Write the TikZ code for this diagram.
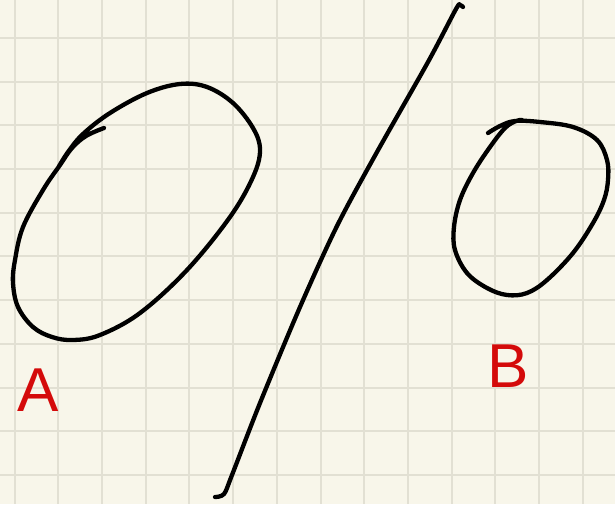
\documentclass[tikz,border=0pt]{standalone}
\usepackage{fontspec}
\setmainfont{Liberation Sans}
\usepackage{tikz}
\usetikzlibrary{positioning}
\definecolor{paperclr}{HTML}{F8F6EA}
\definecolor{gridclr}{HTML}{E2E0D3}
\definecolor{inkclr}{HTML}{000000}
\definecolor{redink}{HTML}{D40A0A}

\begin{document}
\begin{tikzpicture}[
    x=1pt, y=-1pt,
    gridline/.style={draw=gridclr, line width=2pt},
    pen/.style={draw=inkclr, line width=4.3pt, line cap=round, line join=round},
    lbl/.style={font=\fontsize{62}{62}\selectfont, text=redink, inner sep=0pt},
  ]
  \fill[paperclr] (0,0) rectangle (615,504);
  \useasboundingbox (0,0) rectangle (615,504);

  % squared paper
  \foreach \gx in {0,...,13}
    \draw[gridline] (14.6+43.7*\gx,0) -- ++(0,504);
  \foreach \gy in {0,...,10}
    \draw[gridline] (0,37.9+43.7*\gy) -- ++(615,0);

  % loop A
  \draw[pen] plot[smooth, tension=0.6] coordinates {
    (104,128) (86,136) (72,148) (60,165) (43,190) (23,227) (15,260) (13,283)
    (18,307) (33,327) (52,337) (73,340) (100,335) (140,313) (187,270)
    (230,217) (253,177) (260,150) (253,128) (233,103) (207,87) (180,84)
    (147,93) (110,113) (83,134) (68,152) (58,168)};

  % dividing stroke
  \draw[pen] plot[smooth, tension=0.5] coordinates {
    (215,497) (224,494) (232,475) (260,403) (300,307) (337,226) (377,152)
    (428,62) (456,9) (460,5) (463,7)};

  % loop B
  \draw[pen] plot[smooth, tension=0.6] coordinates {
    (488,133) (500,126) (515,121) (540,122) (573,127) (597,140) (607,160)
    (608,180) (604,200) (593,223) (573,253) (547,280) (527,293) (507,295)
    (487,288) (467,273) (455,250) (454,227) (460,200) (473,173) (490,147)
    (505,128) (516,121) (522,120)};

  \node[lbl] (labelA) at (38,390) {A};
  \node[lbl] (labelB) at (508,366) {B};
\end{tikzpicture}
\end{document}
